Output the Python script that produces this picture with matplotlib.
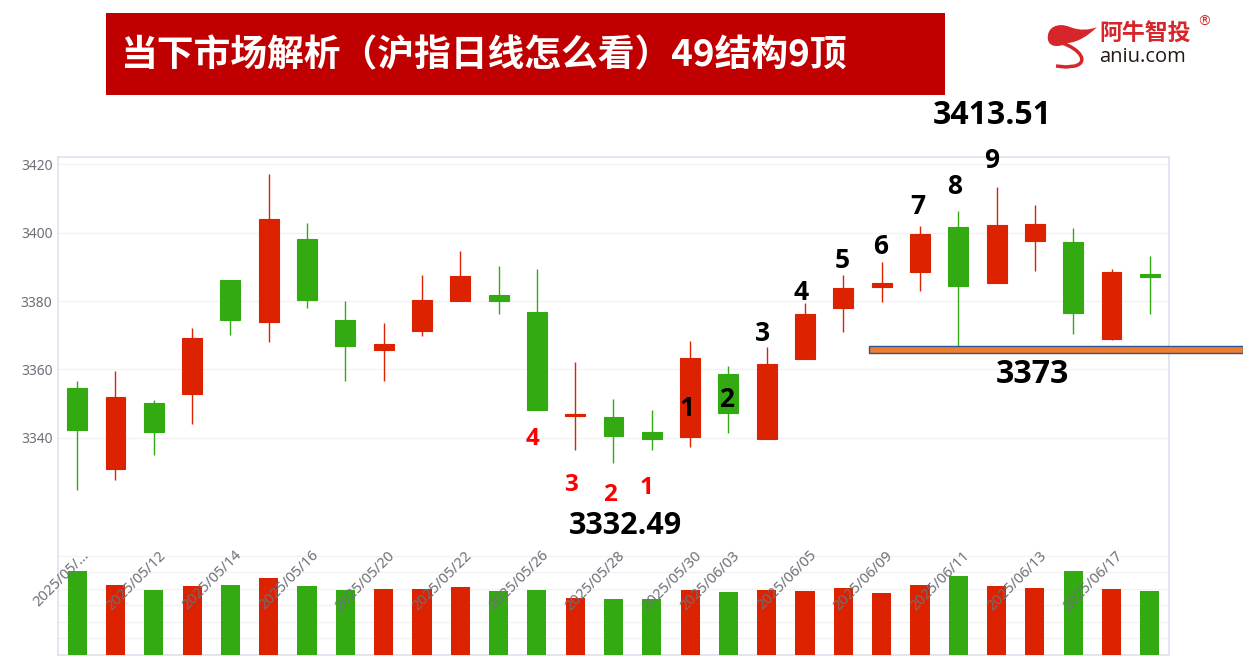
import matplotlib
matplotlib.use('Agg')
import matplotlib.pyplot as plt
import matplotlib.transforms as mtransforms
from matplotlib.patches import Rectangle, PathPatch
from matplotlib.path import Path

plt.rcParams['font.family'] = ['Noto Sans CJK SC', 'DejaVu Sans']

# data
dates = ['2025/05/08', '2025/05/09', '2025/05/12', '2025/05/13', '2025/05/14', '2025/05/15',
         '2025/05/16', '2025/05/19', '2025/05/20', '2025/05/21', '2025/05/22', '2025/05/23',
         '2025/05/26', '2025/05/27', '2025/05/28', '2025/05/29', '2025/05/30', '2025/06/03',
         '2025/06/04', '2025/06/05', '2025/06/06', '2025/06/09', '2025/06/10', '2025/06/11',
         '2025/06/12', '2025/06/13', '2025/06/16', '2025/06/17', '2025/06/18']
opens = [3354.7, 3330.8, 3350.2, 3352.7, 3386.1, 3373.9, 3398.1, 3374.5, 3365.6, 3371.2,
         3379.9, 3381.8, 3376.7, 3346.5, 3346.1, 3341.6, 3340.2, 3358.6, 3339.7, 3363.0,
         3378.0, 3384.0, 3388.5, 3401.7, 3385.2, 3397.5, 3397.2, 3369.0, 3387.9]
closes = [3342.3, 3351.9, 3341.8, 3369.1, 3374.4, 3403.9, 3380.3, 3367.0, 3367.4, 3380.3,
          3387.4, 3379.9, 3348.0, 3346.7, 3340.4, 3339.7, 3363.3, 3347.3, 3361.7, 3376.1,
          3383.8, 3385.3, 3399.6, 3384.5, 3402.2, 3402.4, 3376.6, 3388.6, 3387.1]
highs = [3356.5, 3359.6, 3351.0, 3372.2, 3386.1, 3417.3, 3402.8, 3380.1, 3373.5, 3387.7,
         3394.6, 3390.2, 3389.4, 3362.2, 3351.4, 3348.1, 3368.3, 3361.0, 3366.7, 3379.3,
         3387.6, 3391.3, 3401.9, 3406.3, 3413.51, 3408.0, 3401.4, 3389.5, 3393.2]
lows = [3324.7, 3327.6, 3335.1, 3344.0, 3370.1, 3368.0, 3378.0, 3356.5, 3356.5, 3369.8,
        3379.9, 3376.1, 3348.0, 3336.3, 3332.49, 3336.5, 3337.3, 3341.5, 3339.7, 3363.0,
        3371.0, 3379.6, 3383.0, 3366.9, 3385.2, 3388.7, 3370.5, 3368.6, 3376.3]
volumes = [509, 424, 394, 414, 424, 465, 418, 390, 400, 400, 410, 388, 394, 345, 339,
           335, 390, 382, 394, 386, 404, 376, 424, 479, 418, 404, 509, 400, 386]
label_idx = [0, 2, 4, 6, 8, 10, 12, 14, 16, 17, 19, 21, 23, 25, 27]
price_ticks = [3340, 3360, 3380, 3400, 3420]

UP = '#DD2200'
DOWN = '#33AA11'
FRAME = '#DCE2EE'
GRID = '#F3F3F5'
LABEL = '#6E7079'

W, H = 1243, 670
fig = plt.figure(figsize=(W / 100, H / 100), dpi=100)


def fx(x):
    return x / W


def fy(y):
    return 1 - y / H


# axes in pixel layout: frame 58..1169 x 157..655
ax = fig.add_axes([fx(58), fy(539), (1169 - 58) / W, (539 - 157) / H])
axv = fig.add_axes([fx(58), fy(655), (1169 - 58) / W, (655 - 539) / H])

n = len(dates)
xs = list(range(n))
colors = [UP if c >= o else DOWN for o, c in zip(opens, closes)]

# candles
ax.vlines(xs, lows, highs, colors=colors, linewidth=1, zorder=2)
bottoms = [min(o, c) for o, c in zip(opens, closes)]
heights = [max(abs(c - o), 0.4) for o, c in zip(opens, closes)]
ax.bar(xs, heights, bottom=bottoms, width=0.52, color=colors, edgecolor=colors,
       linewidth=0.8, zorder=3)

ax.set_xlim(-0.5, n - 0.5)
ax.set_ylim(3310.4, 3422.14)
ax.set_yticks(price_ticks)
ax.set_yticklabels([str(t) for t in price_ticks], fontsize=10, color=LABEL,
                   family='Noto Sans')
ax.tick_params(axis='y', length=0, pad=4)
ax.set_xticks([])
ax.grid(axis='y', color=GRID, linewidth=1, zorder=0)
ax.set_axisbelow(True)
for s in ['left', 'right', 'top']:
    ax.spines[s].set_color(FRAME)
    ax.spines[s].set_linewidth(1.2)
ax.spines['bottom'].set_visible(False)

# volume
axv.bar(xs, volumes, width=0.5, color=colors, zorder=3)
axv.set_xlim(-0.5, n - 0.5)
axv.set_ylim(0, 700)
axv.set_yticks([100, 200, 300, 400, 500, 600])
axv.set_yticklabels([])
axv.tick_params(axis='y', length=0)
axv.set_xticks([])
axv.grid(axis='y', color=GRID, linewidth=1, zorder=0)
axv.set_axisbelow(True)
for s in ['left', 'right', 'bottom']:
    axv.spines[s].set_color(FRAME)
    axv.spines[s].set_linewidth(1.2)
axv.spines['top'].set_visible(False)

# rotated date labels
trans = mtransforms.blended_transform_factory(axv.transData, fig.transFigure)
trans = mtransforms.offset_copy(trans, fig=fig, x=4, y=0, units='dots')
for i in label_idx:
    txt = dates[i] if i > 0 else dates[i][:8] + '…'
    axv.text(i, fy(548), txt, transform=trans, rotation=45, rotation_mode='anchor',
             ha='right', va='top', fontsize=10.5, color=LABEL, family='Noto Sans',
             zorder=5)

# title box
fig.patches.append(Rectangle((fx(106), fy(95)), (945 - 106) / W, (95 - 13) / H,
                             transform=fig.transFigure, facecolor='#C00000',
                             edgecolor='none'))
fig.text(fx(120), fy(56), '当下市场解析（沪指日线怎么看）49结构9顶', fontsize=26.5,
         fontweight='bold', color='white', ha='left', va='center')

# logo
verts = [(1048, 40), (1046, 27), (1058, 22), (1070, 27),
         (1080, 31), (1090, 30), (1097, 27),
         (1088, 36), (1078, 42), (1068, 43),
         (1060, 47), (1050, 48), (1048, 40), (1048, 40)]
codes = [Path.MOVETO, Path.CURVE4, Path.CURVE4, Path.CURVE4,
         Path.CURVE4, Path.CURVE4, Path.CURVE4,
         Path.CURVE4, Path.CURVE4, Path.CURVE4,
         Path.CURVE4, Path.CURVE4, Path.CURVE4, Path.CLOSEPOLY]
head = Path([(fx(x), fy(y)) for x, y in verts], codes)
fig.patches.append(PathPatch(head, transform=fig.transFigure, facecolor='#D7262B',
                             edgecolor='none'))
tail = Path([(fx(x), fy(y)) for x, y in [(1062, 43), (1080, 49), (1089, 62), (1075, 66),
                                          (1066, 67), (1056, 66)]],
            [Path.MOVETO, Path.CURVE4, Path.CURVE4, Path.CURVE4, Path.LINETO, Path.LINETO])
fig.patches.append(PathPatch(tail, transform=fig.transFigure, facecolor='none',
                             edgecolor='#D7262B', linewidth=2.5))
fig.text(fx(1099), fy(34), '阿牛智投', fontsize=16.5, fontweight='bold', color='#D7262B',
         ha='left', va='center')
fig.text(fx(1197), fy(22), '®', fontsize=10, color='#D7262B', ha='left', va='center',
         family='DejaVu Sans')
fig.text(fx(1099), fy(57), 'aniu.com', fontsize=14.5, color='#231815', ha='left',
         va='center', family='Open Sans')

# count annotations
num_font = dict(family='Open Sans', fontweight='bold', ha='center', va='center')
red_nums = [('4', 533, 439), ('3', 571, 485), ('2', 610, 495), ('1', 647, 488)]
for t, x, y in red_nums:
    fig.text(fx(x), fy(y), t, fontsize=17.5, color='#FF0000', **num_font)
black_nums = [('1', 687, 408), ('2', 727, 400), ('3', 763, 333), ('4', 801, 292),
              ('5', 842, 260), ('6', 881, 246), ('7', 918, 207), ('8', 955, 186),
              ('9', 992, 160)]
for t, x, y in black_nums:
    fig.text(fx(x), fy(y), t, fontsize=19, color='black', **num_font)

fig.text(fx(992), fy(116), '3413.51', fontsize=23, color='black', **num_font)
fig.text(fx(625), fy(526), '3332.49', fontsize=22, color='black', **num_font)
fig.text(fx(1032), fy(375), '3373', fontsize=23, color='black', **num_font)

# support bar
fig.patches.append(Rectangle((fx(869), fy(353)), (1243 - 869) / W, 7 / H,
                             transform=fig.transFigure, facecolor='#ED7D31',
                             edgecolor='#2F5597', linewidth=1, zorder=6))

fig.savefig('out.png', dpi=100)
